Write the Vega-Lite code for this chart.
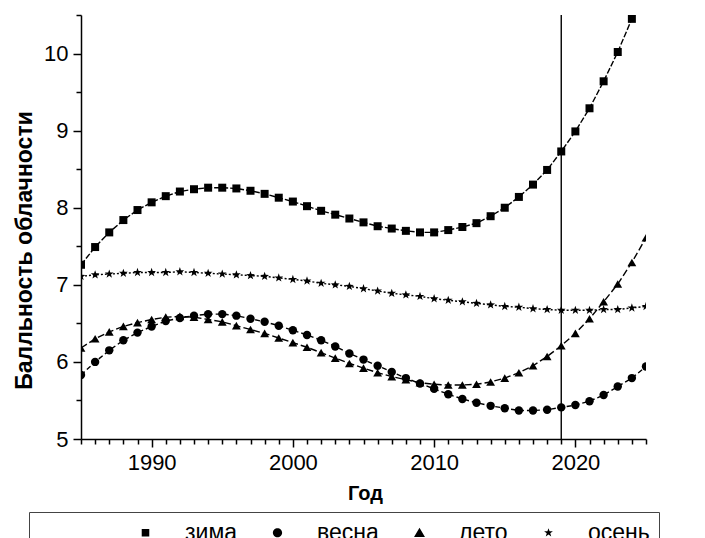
{
  "$schema": "https://vega.github.io/schema/vega-lite/v6.json",
  "width": 565,
  "height": 424,
  "autosize": {"type": "none"},
  "padding": {"left": 81, "top": 15, "right": 59, "bottom": 99},
  "background": "white",
  "config": {
    "view": {"stroke": null},
    "font": "Liberation Sans",
    "axis": {"domainColor": "black", "domainWidth": 1.5, "tickColor": "black", "tickWidth": 1.5, "labelColor": "black", "titleColor": "black", "grid": false, "labelFont": "Liberation Sans", "titleFont": "Liberation Sans"}
  },
  "data": {"values": [
    {"year":1985,"season":"зима","value":7.26},{"year":1986,"season":"зима","value":7.49},{"year":1987,"season":"зима","value":7.68},{"year":1988,"season":"зима","value":7.84},{"year":1989,"season":"зима","value":7.97},{"year":1990,"season":"зима","value":8.07},{"year":1991,"season":"зима","value":8.15},{"year":1992,"season":"зима","value":8.21},{"year":1993,"season":"зима","value":8.24},{"year":1994,"season":"зима","value":8.26},{"year":1995,"season":"зима","value":8.26},{"year":1996,"season":"зима","value":8.25},{"year":1997,"season":"зима","value":8.22},{"year":1998,"season":"зима","value":8.18},{"year":1999,"season":"зима","value":8.13},{"year":2000,"season":"зима","value":8.08},{"year":2001,"season":"зима","value":8.02},{"year":2002,"season":"зима","value":7.96},{"year":2003,"season":"зима","value":7.91},{"year":2004,"season":"зима","value":7.86},{"year":2005,"season":"зима","value":7.81},{"year":2006,"season":"зима","value":7.76},{"year":2007,"season":"зима","value":7.73},{"year":2008,"season":"зима","value":7.70},{"year":2009,"season":"зима","value":7.68},{"year":2010,"season":"зима","value":7.68},{"year":2011,"season":"зима","value":7.71},{"year":2012,"season":"зима","value":7.75},{"year":2013,"season":"зима","value":7.80},{"year":2014,"season":"зима","value":7.89},{"year":2015,"season":"зима","value":8.00},{"year":2016,"season":"зима","value":8.14},{"year":2017,"season":"зима","value":8.30},{"year":2018,"season":"зима","value":8.49},{"year":2019,"season":"зима","value":8.73},{"year":2020,"season":"зима","value":8.99},{"year":2021,"season":"зима","value":9.29},{"year":2022,"season":"зима","value":9.64},{"year":2023,"season":"зима","value":10.02},{"year":2024,"season":"зима","value":10.45},
    {"year":1985,"season":"весна","value":5.83},{"year":1986,"season":"весна","value":6.00},{"year":1987,"season":"весна","value":6.15},{"year":1988,"season":"весна","value":6.28},{"year":1989,"season":"весна","value":6.38},{"year":1990,"season":"весна","value":6.46},{"year":1991,"season":"весна","value":6.53},{"year":1992,"season":"весна","value":6.57},{"year":1993,"season":"весна","value":6.60},{"year":1994,"season":"весна","value":6.62},{"year":1995,"season":"весна","value":6.62},{"year":1996,"season":"весна","value":6.60},{"year":1997,"season":"весна","value":6.56},{"year":1998,"season":"весна","value":6.52},{"year":1999,"season":"весна","value":6.47},{"year":2000,"season":"весна","value":6.41},{"year":2001,"season":"весна","value":6.35},{"year":2002,"season":"весна","value":6.28},{"year":2003,"season":"весна","value":6.20},{"year":2004,"season":"весна","value":6.11},{"year":2005,"season":"весна","value":6.03},{"year":2006,"season":"весна","value":5.95},{"year":2007,"season":"весна","value":5.87},{"year":2008,"season":"весна","value":5.79},{"year":2009,"season":"весна","value":5.72},{"year":2010,"season":"весна","value":5.65},{"year":2011,"season":"весна","value":5.58},{"year":2012,"season":"весна","value":5.52},{"year":2013,"season":"весна","value":5.47},{"year":2014,"season":"весна","value":5.43},{"year":2015,"season":"весна","value":5.40},{"year":2016,"season":"весна","value":5.37},{"year":2017,"season":"весна","value":5.37},{"year":2018,"season":"весна","value":5.38},{"year":2019,"season":"весна","value":5.41},{"year":2020,"season":"весна","value":5.44},{"year":2021,"season":"весна","value":5.49},{"year":2022,"season":"весна","value":5.57},{"year":2023,"season":"весна","value":5.68},{"year":2024,"season":"весна","value":5.79},{"year":2025,"season":"весна","value":5.94},
    {"year":1985,"season":"лето","value":6.18},{"year":1986,"season":"лето","value":6.30},{"year":1987,"season":"лето","value":6.39},{"year":1988,"season":"лето","value":6.46},{"year":1989,"season":"лето","value":6.51},{"year":1990,"season":"лето","value":6.55},{"year":1991,"season":"лето","value":6.58},{"year":1992,"season":"лето","value":6.59},{"year":1993,"season":"лето","value":6.58},{"year":1994,"season":"лето","value":6.55},{"year":1995,"season":"лето","value":6.52},{"year":1996,"season":"лето","value":6.47},{"year":1997,"season":"лето","value":6.42},{"year":1998,"season":"лето","value":6.37},{"year":1999,"season":"лето","value":6.31},{"year":2000,"season":"лето","value":6.25},{"year":2001,"season":"лето","value":6.19},{"year":2002,"season":"лето","value":6.12},{"year":2003,"season":"лето","value":6.05},{"year":2004,"season":"лето","value":5.98},{"year":2005,"season":"лето","value":5.92},{"year":2006,"season":"лето","value":5.86},{"year":2007,"season":"лето","value":5.81},{"year":2008,"season":"лето","value":5.77},{"year":2009,"season":"лето","value":5.73},{"year":2010,"season":"лето","value":5.71},{"year":2011,"season":"лето","value":5.70},{"year":2012,"season":"лето","value":5.70},{"year":2013,"season":"лето","value":5.71},{"year":2014,"season":"лето","value":5.74},{"year":2015,"season":"лето","value":5.79},{"year":2016,"season":"лето","value":5.86},{"year":2017,"season":"лето","value":5.95},{"year":2018,"season":"лето","value":6.07},{"year":2019,"season":"лето","value":6.21},{"year":2020,"season":"лето","value":6.37},{"year":2021,"season":"лето","value":6.56},{"year":2022,"season":"лето","value":6.78},{"year":2023,"season":"лето","value":7.01},{"year":2024,"season":"лето","value":7.29},{"year":2025,"season":"лето","value":7.61},
    {"year":1985,"season":"осень","value":7.11},{"year":1986,"season":"осень","value":7.13},{"year":1987,"season":"осень","value":7.14},{"year":1988,"season":"осень","value":7.15},{"year":1989,"season":"осень","value":7.16},{"year":1990,"season":"осень","value":7.16},{"year":1991,"season":"осень","value":7.16},{"year":1992,"season":"осень","value":7.17},{"year":1993,"season":"осень","value":7.16},{"year":1994,"season":"осень","value":7.15},{"year":1995,"season":"осень","value":7.14},{"year":1996,"season":"осень","value":7.13},{"year":1997,"season":"осень","value":7.12},{"year":1998,"season":"осень","value":7.11},{"year":1999,"season":"осень","value":7.09},{"year":2000,"season":"осень","value":7.07},{"year":2001,"season":"осень","value":7.05},{"year":2002,"season":"осень","value":7.02},{"year":2003,"season":"осень","value":7.00},{"year":2004,"season":"осень","value":6.98},{"year":2005,"season":"осень","value":6.95},{"year":2006,"season":"осень","value":6.92},{"year":2007,"season":"осень","value":6.89},{"year":2008,"season":"осень","value":6.87},{"year":2009,"season":"осень","value":6.85},{"year":2010,"season":"осень","value":6.82},{"year":2011,"season":"осень","value":6.80},{"year":2012,"season":"осень","value":6.78},{"year":2013,"season":"осень","value":6.76},{"year":2014,"season":"осень","value":6.74},{"year":2015,"season":"осень","value":6.72},{"year":2016,"season":"осень","value":6.71},{"year":2017,"season":"осень","value":6.69},{"year":2018,"season":"осень","value":6.68},{"year":2019,"season":"осень","value":6.67},{"year":2020,"season":"осень","value":6.67},{"year":2021,"season":"осень","value":6.67},{"year":2022,"season":"осень","value":6.68},{"year":2023,"season":"осень","value":6.68},{"year":2024,"season":"осень","value":6.70},{"year":2025,"season":"осень","value":6.72}
  ]},
  "encoding": {
    "x": {"field": "year", "type": "quantitative", "scale": {"domain": [1985, 2025], "nice": false, "zero": false},
          "axis": {"values": [1985,1986,1987,1988,1989,1990,1991,1992,1993,1994,1995,1996,1997,1998,1999,2000,2001,2002,2003,2004,2005,2006,2007,2008,2009,2010,2011,2012,2013,2014,2015,2016,2017,2018,2019,2020,2021,2022,2023,2024,2025],
                   "tickSize": {"condition": {"test": "datum.value % 10 === 0", "value": 8}, "value": 5},
                   "labelExpr": "datum.value % 10 === 0 ? datum.label : ''",
                   "labelFontSize": 22, "labelPadding": 5, "format": "d", "labelOverlap": false, "labelFlush": false,
                   "title": "Год", "titleFontSize": 20, "titleFontWeight": "bold", "titleX": 284, "titleY": 54, "titleAlign": "center", "titleBaseline": "middle"}},
    "y": {"field": "value", "type": "quantitative", "scale": {"domain": [5, 10.5], "nice": false, "zero": false},
          "axis": {"values": [5, 5.5, 6, 6.5, 7, 7.5, 8, 8.5, 9, 9.5, 10, 10.5],
                   "tickSize": {"condition": {"test": "datum.value % 1 === 0", "value": 8}, "value": 5},
                   "labelExpr": "datum.value % 1 === 0 ? format(datum.value, 'd') : ''",
                   "labelFontSize": 22, "labelPadding": 5, "labelOverlap": false, "labelFlush": false,
                   "title": "Балльность облачности", "titleFontSize": 23, "titleFontWeight": "bold", "titleX": -57, "titleY": 235, "titleAngle": 270, "titleAlign": "center", "titleBaseline": "middle"}}
  },
  "layer": [
    {
      "mark": {"type": "line", "clip": true, "stroke": "black", "strokeWidth": 1.4},
      "encoding": {
        "detail": {"field": "season", "type": "nominal"},
        "strokeDash": {"field": "season", "type": "nominal", "scale": {"domain": ["зима", "весна", "лето", "осень"], "range": [[6, 2], [5, 3], [7, 3], [2, 2]]}, "legend": null}
      }
    },
    {
      "mark": {"type": "point", "filled": true, "clip": true, "fill": "black", "opacity": 1},
      "encoding": {
        "shape": {"field": "season", "type": "nominal", "scale": {"domain": ["зима", "весна", "лето", "осень"], "range": ["square", "circle", "triangle-up", "M0,-1L0.235,-0.324L0.951,-0.309L0.380,0.124L0.588,0.809L0,0.4L-0.588,0.809L-0.380,0.124L-0.951,-0.309L-0.235,-0.324Z"]}, "legend": null},
        "size": {"field": "season", "type": "nominal", "scale": {"domain": ["зима", "весна", "лето", "осень"], "range": [64, 85, 110, 90]}, "legend": null}
      }
    },
    {
      "data": {"values": [{"year": 2019}]},
      "mark": {"type": "rule", "color": "black", "strokeWidth": 1.4},
      "encoding": {"x": {"field": "year", "type": "quantitative"}, "y": null}
    },
    {
      "transform": [{"filter": "datum.year < 1900"}],
      "mark": {"type": "point", "filled": true, "fill": "black", "stroke": "black", "strokeWidth": 1.5, "opacity": 1},
      "encoding": {
        "shape": {"field": "season", "type": "nominal",
          "scale": {"domain": ["зима", "весна", "лето", "осень"],
                    "range": ["M-2.5,0H-0.6M0.6,0H2.5M-0.45,-0.45H0.45V0.45H-0.45Z",
                              "M-2.5,0H-0.7M0.7,0H2.5M0.55,0A0.55,0.55,0,1,1,-0.55,0A0.55,0.55,0,1,1,0.55,0Z",
                              "M-2.5,0H-0.8M0.8,0H2.5M0,-0.6L0.65,0.5H-0.65Z",
                              "M-2.5,0H-0.7M0.7,0H2.5M0,-0.55L0.13,-0.178L0.523,-0.17L0.209,0.068L0.323,0.445L0,0.22L-0.323,0.445L-0.209,0.068L-0.523,-0.17L-0.13,-0.178Z"]},
          "legend": {"orient": "none", "legendX": -52, "legendY": 497, "direction": "horizontal",
                     "title": " ", "titleOrient": "left", "titleFontSize": 1, "titlePadding": 96,
                     "padding": 9, "strokeColor": "#444", "symbolSize": 282, "symbolStrokeWidth": 1.5,
                     "symbolFillColor": "black", "symbolStrokeColor": "black", "symbolOpacity": 1,
                     "labelFontSize": 23, "labelColor": "black", "labelOffset": 28, "columnPadding": 16, "labelLimit": 500,
                     "labelExpr": "datum.label == 'осень' ? 'осень\u00a0\u00a0\u00a0\u00a0\u00a0\u00a0\u00a0\u00a0\u00a0\u00a0\u00a0\u00a0' : datum.label",
                     "encode": {"symbols": {"update": {"stroke": {"value": "black"}, "strokeWidth": {"value": 1.5}, "fill": {"value": "black"}, "opacity": {"value": 1}, "strokeOpacity": {"value": 1}}}}}
        }
      }
    }
  ],
  "resolve": {
    "scale": {"shape": "independent"},
    "legend": {"shape": "independent"}
  }
}
